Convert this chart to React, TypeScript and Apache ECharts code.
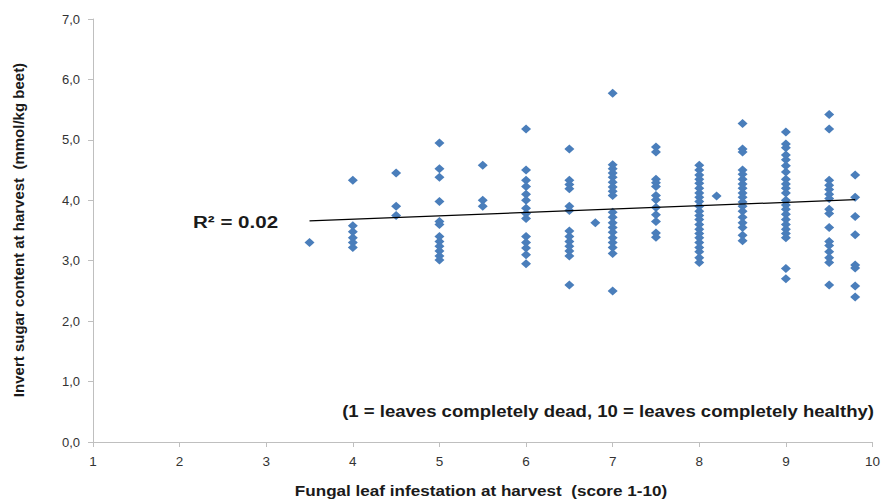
import React, { useEffect, useRef } from "react";
import * as echarts from "echarts";

// Fungal leaf infestation score (x) → invert sugar content values (y)
const x35 = [3.3];
const x40 = [4.33, 3.58, 3.48, 3.38, 3.3, 3.22];
const x45 = [4.45, 3.9, 3.75];
const x50 = [4.95, 4.52, 4.38, 3.98, 3.65, 3.6, 3.4, 3.32, 3.24, 3.16, 3.08, 3.01];
const x55 = [4.58, 4.0, 3.9];
const x60 = [5.18, 4.5, 4.33, 4.23, 4.1, 4.0, 3.87, 3.78, 3.7, 3.4, 3.3, 3.21, 3.1, 2.95];
const x65 = [4.85, 4.33, 4.26, 4.19, 3.9, 3.83, 3.49, 3.4, 3.32, 3.24, 3.16, 3.08, 2.6];
const x68 = [3.63];
const x70 = [5.77, 4.59, 4.52, 4.45, 4.38, 4.3, 4.22, 4.15, 4.08, 3.8, 3.72, 3.63, 3.55, 3.47, 3.38, 3.3, 3.22, 3.12, 2.5];
const x75 = [4.88, 4.8, 4.35, 4.29, 4.23, 4.08, 4.01, 3.88, 3.76, 3.65, 3.46, 3.39];
const x80 = [4.58, 4.5, 4.42, 4.35, 4.28, 4.2, 4.12, 4.05, 3.98, 3.9, 3.82, 3.75, 3.68, 3.6, 3.52, 3.45, 3.38, 3.3, 3.22, 3.15, 3.05, 2.97];
const x82 = [4.07];
const x85 = [5.27, 4.85, 4.8, 4.5, 4.43, 4.35, 4.27, 4.2, 4.12, 4.05, 3.97, 3.9, 3.82, 3.72, 3.63, 3.55, 3.42, 3.33];
const x90 = [5.13, 4.93, 4.87, 4.75, 4.67, 4.57, 4.47, 4.35, 4.27, 4.2, 4.12, 4.0, 3.92, 3.85, 3.77, 3.68, 3.6, 3.52, 3.45, 3.38, 2.87, 2.7];
const x95 = [5.42, 5.18, 4.33, 4.25, 4.18, 4.1, 4.03, 3.85, 3.78, 3.55, 3.32, 3.25, 3.15, 3.05, 2.97, 2.6];
const x98 = [4.42, 4.05, 3.73, 3.43, 2.93, 2.88, 2.58, 2.4];

const scores = [3.5, 4, 4.5, 5, 5.5, 6, 6.5, 6.8, 7, 7.5, 8, 8.2, 8.5, 9, 9.5, 9.8];
const columns = [x35, x40, x45, x50, x55, x60, x65, x68, x70, x75, x80, x82, x85, x90, x95, x98];

// Linear trend line endpoints
const trendX = [3.5, 9.8];
const trendY = [3.66, 4.01];

const xTicks = [1, 2, 3, 4, 5, 6, 7, 8, 9, 10];
const yTicks = [0, 1, 2, 3, 4, 5, 6, 7];

const xTitle = "Fungal leaf infestation at harvest  (score 1-10)";
const yTitle = "Invert sugar content at harvest  (mmol/kg beet)";
const r2Label = "R² = 0.02";
const noteLabel = "(1 = leaves completely dead, 10 = leaves completely healthy)";

const FONT = "'Liberation Sans', Arial, sans-serif";

export default function App() {
  const ref = useRef<HTMLDivElement>(null);
  useEffect(() => {
    if (!ref.current) return;
    const chart = echarts.init(ref.current, undefined, { renderer: "svg" });
    const points: number[][] = [];
    scores.forEach((s, i) => columns[i].forEach((v) => points.push([s, v])));
    chart.setOption({
      animation: false,
      backgroundColor: "#ffffff",
      grid: { left: 93, right: 10, top: 19, bottom: 57 },
      xAxis: {
        type: "value",
        min: xTicks[0],
        max: xTicks[xTicks.length - 1],
        interval: 1,
        axisLine: { show: true, lineStyle: { color: "#bfbfbf", width: 1 } },
        axisTick: { show: true, length: 5, lineStyle: { color: "#bfbfbf" } },
        axisLabel: { fontFamily: FONT, fontSize: 13.5, color: "#333333", margin: 12 },
        splitLine: { show: false },
      },
      yAxis: {
        type: "value",
        min: yTicks[0],
        max: yTicks[yTicks.length - 1],
        interval: 1,
        axisLine: { show: true, lineStyle: { color: "#bfbfbf", width: 1 } },
        axisTick: { show: true, length: 5, lineStyle: { color: "#bfbfbf" } },
        axisLabel: {
          fontFamily: FONT,
          fontSize: 13,
          color: "#333333",
          margin: 13,
          formatter: (v: number) => v.toFixed(1).replace(".", ","),
        },
        splitLine: { show: false },
      },
      series: [
        {
          type: "scatter",
          data: points,
          symbol: "diamond",
          symbolSize: [10, 9],
          itemStyle: { color: "#4a7ebb", opacity: 1 },
          z: 2,
        },
        {
          type: "line",
          data: trendX.map((x, i) => [x, trendY[i]]),
          symbol: "none",
          lineStyle: { color: "#000000", width: 1.3 },
          z: 3,
        },
      ],
      graphic: [
        {
          type: "text",
          x: 481,
          y: 490,
          scaleX: 1.14,
          style: {
            text: xTitle,
            font: `bold 15px ${FONT}`,
            fill: "#1a1a1a",
            align: "center",
            verticalAlign: "middle",
          },
        },
        {
          type: "text",
          x: 18,
          y: 230,
          rotation: Math.PI / 2,
          style: {
            text: yTitle,
            font: `bold 15px ${FONT}`,
            fill: "#1a1a1a",
            align: "center",
            verticalAlign: "middle",
          },
        },
        {
          type: "text",
          x: 193,
          y: 222,
          scaleX: 1.21,
          style: {
            text: r2Label,
            font: `bold 17px ${FONT}`,
            fill: "#1a1a1a",
            align: "left",
            verticalAlign: "middle",
          },
        },
        {
          type: "text",
          x: 874,
          y: 411,
          scaleX: 1.16,
          style: {
            text: noteLabel,
            font: `bold 16px ${FONT}`,
            fill: "#1a1a1a",
            align: "right",
            verticalAlign: "middle",
          },
        },
      ],
    });
    return () => chart.dispose();
  }, []);
  return (
    <div
      ref={ref}
      style={{ position: "fixed", left: 0, top: 0, width: 883, height: 499 }}
    />
  );
}
